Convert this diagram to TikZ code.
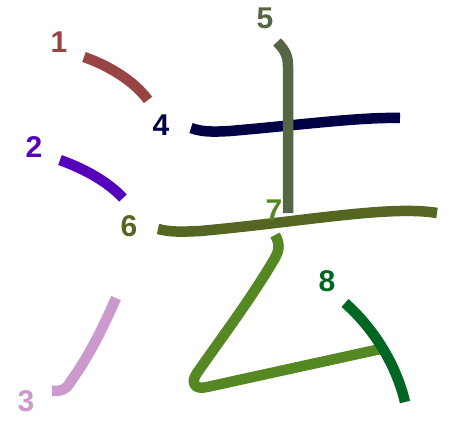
\documentclass[tikz,border=0pt]{standalone}
\usepackage{fontspec}
\setmainfont{Liberation Sans}
\definecolor{cA}{HTML}{994444}
\definecolor{cB}{HTML}{5500BB}
\definecolor{cC}{HTML}{CC99CC}
\definecolor{cD}{HTML}{000044}
\definecolor{cE}{HTML}{556644}
\definecolor{cF}{HTML}{556622}
\definecolor{cG}{HTML}{558822}
\definecolor{cH}{HTML}{006622}
\tikzset{
  stroke/.style={line width=10.5pt, line cap=butt, line join=round},
  num/.style={font=\bfseries\fontsize{30}{30}\selectfont, inner sep=0pt}
}
\begin{document}
\begin{tikzpicture}[x=1pt,y=-1pt]
\useasboundingbox (0,0) rectangle (449,426);
% strokes
\draw[stroke, cA] (84,57) .. controls (110,66) and (135,82) .. (148,100);
\draw[stroke, cB] (60,160) .. controls (85,169) and (108,182) .. (123,198);
\draw[stroke, cC] (116,298) .. controls (100,335) and (85,362) .. (71,381) .. controls (66,390) and (62,391) .. (52,391);
\draw[stroke, cD] (191,128) .. controls (202,132) and (212,132) .. (230,131) .. controls (300,125) and (360,117) .. (400,118);
\draw[stroke, cE] (277,42) .. controls (285,50) and (288,56) .. (288,66) -- (288,213);
\draw[stroke, cF] (158,229) .. controls (170,232) and (180,232) .. (200,231) .. controls (300,222) and (390,205) .. (437,213);
\draw[stroke, cG] (275,235) .. controls (281,245) and (279,252) .. (272,263) .. controls (250,300) and (220,340) .. (197,373) .. controls (190,383) and (195,390) .. (207,387) -- (385,348);
\draw[stroke, cH] (345,303) .. controls (370,325) and (395,360) .. (405,402);
% numbers
\node[num, text=cA] (n1) at (59,42) {1};
\node[num, text=cB] (n2) at (34,147) {2};
\node[num, text=cC] (n3) at (26,401) {3};
\node[num, text=cD] (n4) at (161,125) {4};
\node[num, text=cE] (n5) at (265,18) {5};
\node[num, text=cF] (n6) at (129,226) {6};
\node[num, text=cG] (n7) at (274,210) {7};
\node[num, text=cH] (n8) at (327,281) {8};
\end{tikzpicture}
\end{document}
